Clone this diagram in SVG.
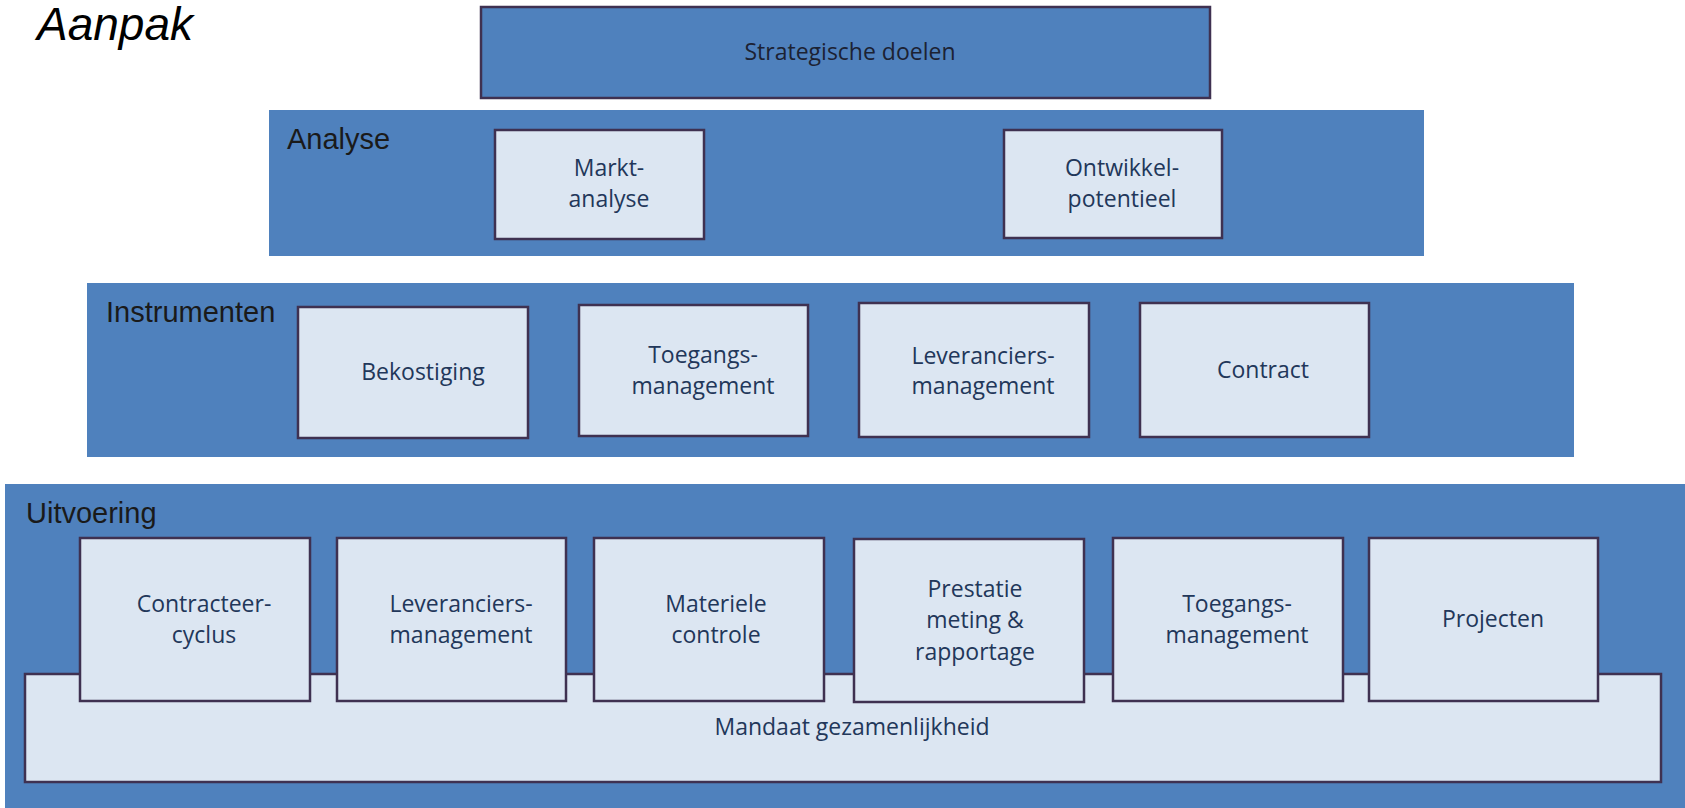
<svg xmlns="http://www.w3.org/2000/svg" width="1685" height="808" viewBox="0 0 1685 808">
<style>
.band{fill:#4F81BD;}
.box{fill:#DCE6F2;stroke:#3F3151;stroke-width:2.5;}
.top{fill:#4F81BD;stroke:#3F3151;stroke-width:2.5;}
.t{font-family:"Open Sans","Noto Sans",sans-serif;font-size:23px;fill:#22375A;text-anchor:middle;}
.lbl{font-family:"Liberation Sans",Arial,sans-serif;font-size:29px;fill:#1a1a1a;}
</style>
<rect width="1685" height="808" fill="#FFFFFF"/>
<text x="37" y="40" font-family="'Liberation Sans',Arial,sans-serif" font-size="46" font-style="italic" fill="#000">Aanpak</text>

<g id="strategische-doelen">
<rect class="top" x="481" y="7" width="729" height="91"/>
<text class="t" x="850" y="60" style="fill:#1c2233">Strategische doelen</text>
</g>

<g id="analyse">
<rect class="band" x="269" y="110" width="1155" height="146"/>
<text class="lbl" x="287" y="149">Analyse</text>
</g>
<g id="marktanalyse">
<rect class="box" x="495" y="130" width="209" height="109"/>
<text class="t" x="609" y="176">Markt-</text>
<text class="t" x="609" y="207">analyse</text>
</g>
<g id="ontwikkelpotentieel">
<rect class="box" x="1004" y="130" width="218" height="108"/>
<text class="t" x="1122" y="176">Ontwikkel-</text>
<text class="t" x="1122" y="207">potentieel</text>
</g>

<g id="instrumenten">
<rect class="band" x="87" y="283" width="1487" height="174"/>
<text class="lbl" x="106" y="322">Instrumenten</text>
</g>
<g id="bekostiging">
<rect class="box" x="298" y="307" width="230" height="131"/>
<text class="t" x="423" y="380">Bekostiging</text>
</g>
<g id="toegangsmanagement-1">
<rect class="box" x="579" y="305" width="229" height="131"/>
<text class="t" x="703" y="363">Toegangs-</text>
<text class="t" x="703" y="394">management</text>
</g>
<g id="leveranciersmanagement-1">
<rect class="box" x="859" y="303" width="230" height="134"/>
<text class="t" x="983" y="364">Leveranciers-</text>
<text class="t" x="983" y="394">management</text>
</g>
<g id="contract">
<rect class="box" x="1140" y="303" width="229" height="134"/>
<text class="t" x="1263" y="378">Contract</text>
</g>

<g id="uitvoering">
<rect class="band" x="5" y="484" width="1680" height="324"/>
<text class="lbl" x="26" y="523">Uitvoering</text>
</g>
<g id="mandaat">
<rect class="box" x="25" y="674" width="1636" height="108"/>
<text class="t" x="852" y="735">Mandaat gezamenlijkheid</text>
</g>
<g id="contracteercyclus">
<rect class="box" x="80" y="538" width="230" height="163"/>
<text class="t" x="204" y="612">Contracteer-</text>
<text class="t" x="204" y="643">cyclus</text>
</g>
<g id="leveranciersmanagement-2">
<rect class="box" x="337" y="538" width="229" height="163"/>
<text class="t" x="461" y="612">Leveranciers-</text>
<text class="t" x="461" y="643">management</text>
</g>
<g id="materiele-controle">
<rect class="box" x="594" y="538" width="230" height="163"/>
<text class="t" x="716" y="612">Materiele</text>
<text class="t" x="716" y="643">controle</text>
</g>
<g id="prestatiemeting">
<rect class="box" x="854" y="539" width="230" height="163"/>
<text class="t" x="975" y="597">Prestatie</text>
<text class="t" x="975" y="628">meting &amp;</text>
<text class="t" x="975" y="660">rapportage</text>
</g>
<g id="toegangsmanagement-2">
<rect class="box" x="1113" y="538" width="230" height="163"/>
<text class="t" x="1237" y="612">Toegangs-</text>
<text class="t" x="1237" y="643">management</text>
</g>
<g id="projecten">
<rect class="box" x="1369" y="538" width="229" height="163"/>
<text class="t" x="1493" y="627">Projecten</text>
</g>
<g id="connectors"></g>
</svg>
